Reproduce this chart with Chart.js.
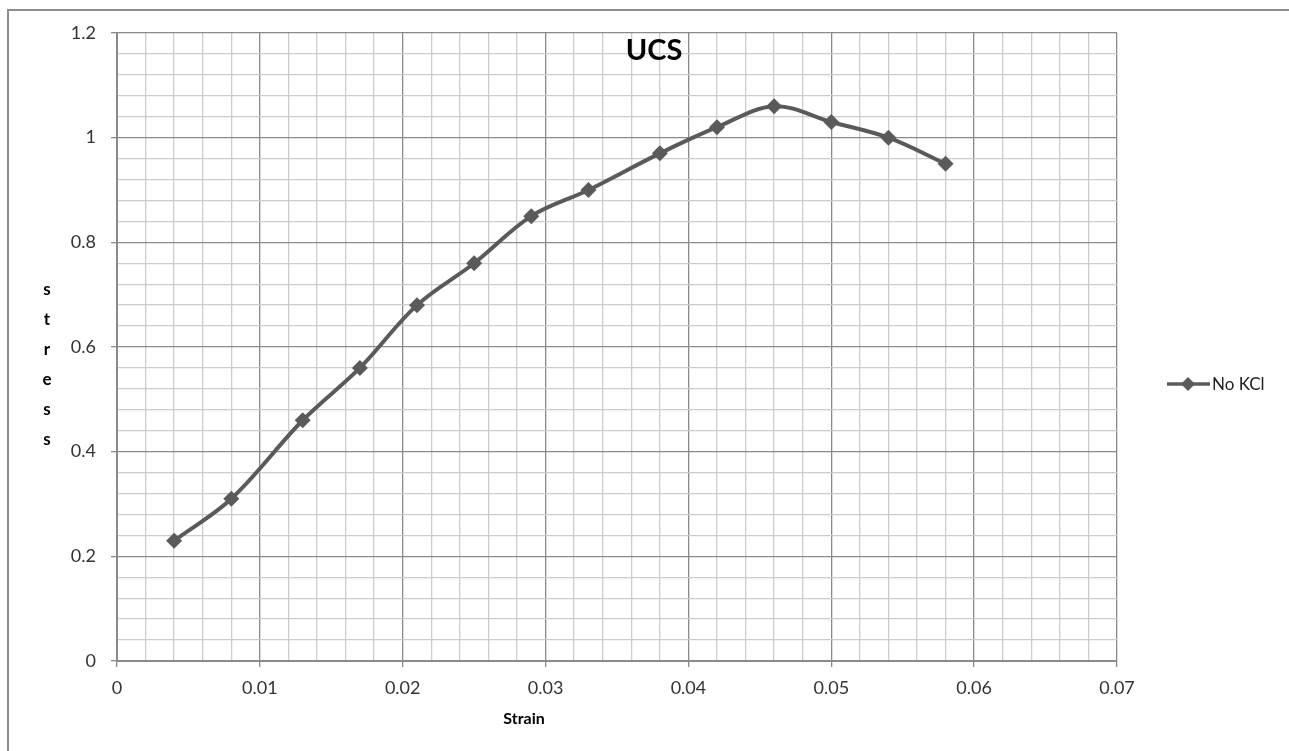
<!DOCTYPE html>
<html>
<head>
<meta charset="utf-8">
<script src="https://cdn.jsdelivr.net/npm/chart.js@4"></script>
<style>
    html, body { margin: 0; padding: 0; background: #fff; }
    #wrap { width: 1289px; height: 751px; position: relative; }
</style>
</head>
<body>
<div id="wrap"><canvas id="ucsChart" width="1289" height="751"></canvas></div>
<script>
// Chart data
const strain = [0.004, 0.008, 0.013, 0.017, 0.021, 0.025, 0.029, 0.033, 0.038, 0.042, 0.046, 0.050, 0.054, 0.058];
const stressNoKCl = [0.23, 0.31, 0.46, 0.56, 0.68, 0.76, 0.85, 0.90, 0.97, 1.02, 1.06, 1.03, 1.00, 0.95];
const xTickLabels = ['0', '0.01', '0.02', '0.03', '0.04', '0.05', '0.06', '0.07'];
const yTickLabels = ['0', '0.2', '0.4', '0.6', '0.8', '1', '1.2'];
const seriesName = 'No KCl';
const chartTitle = 'UCS';
const xTitle = 'Strain';
const yTitle = 'stress';

const FONT = 'Lato, "Open Sans", sans-serif';
const LINE_COLOR = '#5a5a5a';

// Is value on a major step (to avoid float noise)
function isMajor(value, step) {
    const r = value / step;
    return Math.abs(r - Math.round(r)) < 1e-6;
}

// Draws title, axis titles, legend and outer frame
const decorPlugin = {
    id: 'decor',
    afterDraw(chart) {
        const ctx = chart.ctx;
        const area = chart.chartArea;
        ctx.save();

        // outer frame (left and top edges visible)
        ctx.strokeStyle = '#8c8c8c';
        ctx.lineWidth = 2;
        ctx.beginPath();
        ctx.moveTo(8, 751);
        ctx.lineTo(8, 10);
        ctx.lineTo(1289, 10);
        ctx.stroke();

        // chart title
        ctx.fillStyle = '#000';
        ctx.font = 'bold 29px ' + FONT;
        ctx.textAlign = 'center';
        ctx.textBaseline = 'middle';
        ctx.fillText(chartTitle, 654, 51);

        // x axis title
        ctx.font = 'bold 16px ' + FONT;
        ctx.fillText(xTitle, (area.left + area.right) / 2 - 93, 719);

        // y axis title, stacked letters
        ctx.font = 'bold 17px ' + FONT;
        yTitle.split('').forEach((ch, i) => {
            ctx.fillText(ch, 47, 290 + i * 30);
        });

        // legend
        const ly = 384;
        ctx.strokeStyle = LINE_COLOR;
        ctx.lineWidth = 3.5;
        ctx.beginPath();
        ctx.moveTo(1167, ly);
        ctx.lineTo(1210, ly);
        ctx.stroke();
        ctx.fillStyle = LINE_COLOR;
        ctx.beginPath();
        ctx.moveTo(1188, ly - 7);
        ctx.lineTo(1195, ly);
        ctx.lineTo(1188, ly + 7);
        ctx.lineTo(1181, ly);
        ctx.closePath();
        ctx.fill();
        ctx.fillStyle = '#222';
        ctx.font = '17px ' + FONT;
        ctx.textAlign = 'left';
        ctx.fillText(seriesName, 1212, ly + 1);

        ctx.restore();
    }
};

const ctx = document.getElementById('ucsChart');

new Chart(ctx, {
    type: 'scatter',
    data: {
        datasets: [{
            label: seriesName,
            data: strain.map((x, i) => ({ x: x, y: stressNoKCl[i] })),
            showLine: true,
            borderColor: LINE_COLOR,
            backgroundColor: LINE_COLOR,
            borderWidth: 4,
            tension: 0.35,
            pointStyle: 'rectRot',
            pointRadius: 8,
            pointHoverRadius: 8,
            pointBorderWidth: 0
        }]
    },
    options: {
        responsive: false,
        animation: false,
        devicePixelRatio: 1,
        layout: {
            padding: { left: 0, right: 172, top: 33, bottom: 0 }
        },
        plugins: {
            legend: { display: false },
            title: { display: false },
            tooltip: { enabled: false }
        },
        scales: {
            x: {
                type: 'linear',
                min: 0,
                max: 0.07,
                afterFit(scale) { scale.height = 90; },
                ticks: {
                    stepSize: 0.002,
                    autoSkip: false,
                    maxRotation: 0,
                    padding: 10,
                    color: '#333',
                    font: { family: FONT, size: 18 },
                    callback: function(value) {
                        if (!isMajor(value, 0.01)) return '';
                        return xTickLabels[Math.round(value / 0.01)];
                    }
                },
                grid: {
                    tickLength: 6,
                    lineWidth: 1.3,
                    color: c => isMajor(c.tick.value, 0.01) ? '#8a8a8a' : '#cccccc',
                    tickColor: c => isMajor(c.tick.value, 0.01) ? '#8a8a8a' : 'rgba(0,0,0,0)'
                },
                border: { color: '#8a8a8a', width: 2 }
            },
            y: {
                type: 'linear',
                min: 0,
                max: 1.2,
                afterFit(scale) { scale.width = 117; },
                ticks: {
                    stepSize: 0.04,
                    autoSkip: false,
                    padding: 15,
                    color: '#333',
                    font: { family: FONT, size: 18 },
                    callback: function(value) {
                        if (!isMajor(value, 0.2)) return '';
                        return yTickLabels[Math.round(value / 0.2)];
                    }
                },
                grid: {
                    tickLength: 6,
                    lineWidth: 1.3,
                    color: c => isMajor(c.tick.value, 0.2) ? '#8a8a8a' : '#cccccc',
                    tickColor: c => isMajor(c.tick.value, 0.2) ? '#8a8a8a' : 'rgba(0,0,0,0)'
                },
                border: { color: '#8a8a8a', width: 2 }
            }
        }
    },
    plugins: [decorPlugin]
});
</script>
</body>
</html>
